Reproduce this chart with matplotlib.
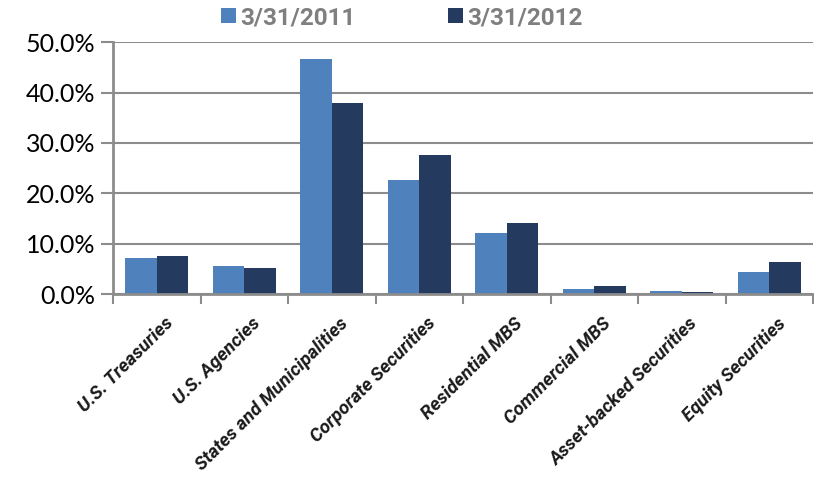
import numpy as np
import matplotlib.pyplot as plt
from matplotlib.ticker import FuncFormatter

categories = ["U.S. Treasuries", "U.S. Agencies", "States and Municipalities",
              "Corporate Securities", "Residential MBS", "Commercial MBS",
              "Asset-backed Securities", "Equity Securities"]
series_names = ["3/31/2011", "3/31/2012"]
vals_2011 = [7.1, 5.5, 46.6, 22.6, 12.1, 1.0, 0.7, 4.3]
vals_2012 = [7.5, 5.1, 37.9, 27.6, 14.1, 1.6, 0.5, 6.3]
yticks = [0, 10, 20, 30, 40, 50]

c11 = '#4F81BD'
c12 = '#243A5F'
grid_c = '#8C8C8C'

fig = plt.figure(figsize=(8.14, 4.79), dpi=100)
ax = fig.add_axes([0.139, 0.386, 0.86, 0.526])

x = np.arange(len(categories))
w = 0.36
ax.bar(x - w / 2, vals_2011, w, color=c11, label=series_names[0], zorder=2)
ax.bar(x + w / 2, vals_2012, w, color=c12, label=series_names[1], zorder=2)

ax.set_xlim(-0.5, len(categories) - 0.5)
ax.set_ylim(0, 50)
ax.set_yticks(yticks)
ax.yaxis.set_major_formatter(FuncFormatter(lambda v, p: f"{v:.1f}%"))
ax.grid(axis='y', color=grid_c, linewidth=1.5, zorder=0)

# category boundaries as ticks
ax.set_xticks(np.arange(len(categories) + 1) - 0.5)
ax.set_xticklabels([])
ax.tick_params(axis='x', length=7, width=1.5, color=grid_c, direction='out')
ax.tick_params(axis='y', length=9, width=1.5, color=grid_c, direction='out', pad=4,
               labelsize=18)
for lab in ax.get_yticklabels():
    lab.set_family('Lato')

for s in ['top', 'right']:
    ax.spines[s].set_visible(False)
for s in ['left', 'bottom']:
    ax.spines[s].set_color(grid_c)
    ax.spines[s].set_linewidth(2)

for i, c in enumerate(categories):
    ax.text(i + 0.08, -4.0, c, rotation=45, ha='right', va='top',
            rotation_mode='anchor', fontsize=13.5, fontweight='bold',
            fontstyle='italic', family='Roboto', color='#1a1a1a')

leg = fig.legend(loc='center', bbox_to_anchor=(0.494, 0.963), ncol=2,
                 frameon=False, handlelength=0.6, handleheight=0.6,
                 handletextpad=0.2, columnspacing=3.8,
                 prop={'family': 'Roboto', 'weight': 'bold', 'size': 17.5})
for t in leg.get_texts():
    t.set_color('#7F7F7F')

fig.savefig('out.png', dpi=100)
